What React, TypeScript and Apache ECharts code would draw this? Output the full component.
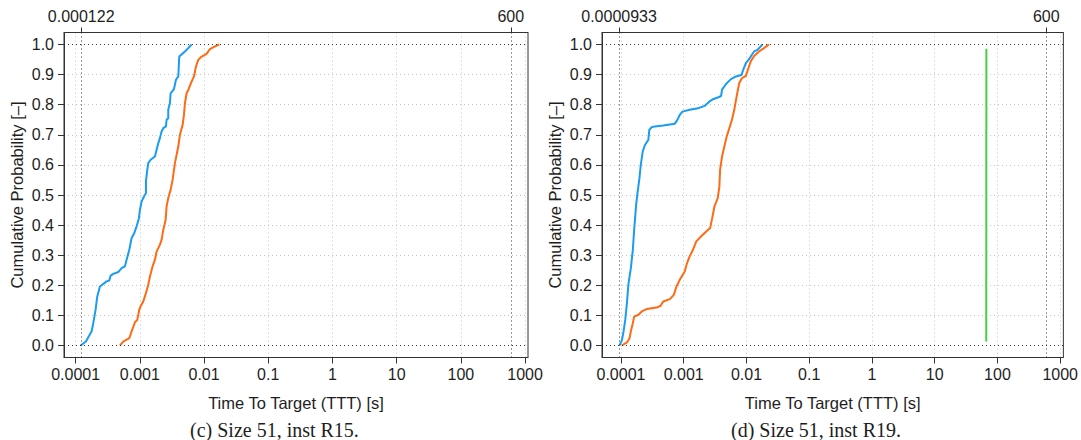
import React, { useEffect, useRef } from "react";
import * as echarts from "echarts";

// ---- Data (times in seconds, cumulative probability) ----
const DECADES = [-4, -3, -2, -1, 0, 1, 2, 3];
const DECADE_LABELS = ["0.0001", "0.001", "0.01", "0.1", "1", "10", "100", "1000"];
const Y_TICKS = [0, 0.1, 0.2, 0.3, 0.4, 0.5, 0.6, 0.7, 0.8, 0.9, 1.0];

const C_TOP_VALUES = [0.000122, 600];
const C_TOP_LABELS = ["0.000122", "600"];
const D_TOP_VALUES = [0.0000933, 600];
const D_TOP_LABELS = ["0.0000933", "600"];

// (c) Size 51, inst R15 — blue
const cBlueT = [1.195e-4, 1.446e-4, 1.774e-4, 1.882e-4, 2.046e-4, 2.173e-4, 2.39e-4, 3.036e-4, 3.34e-4, 3.505e-4, 3.856e-4, 4.61e-4, 5.2e-4, 5.86e-4, 6.22e-4, 6.85e-4, 7.45e-4, 8.1e-4, 8.9e-4, 9.68e-4, 1.004e-3, 1.066e-3, 1.13e-3, 1.2e-3, 1.245e-3, 1.245e-3, 1.306e-3, 1.353e-3, 1.472e-3, 1.718e-3, 1.824e-3, 1.936e-3, 2.055e-3, 2.18e-3, 2.316e-3, 2.55e-3, 2.61e-3, 2.77e-3, 2.77e-3, 2.94e-3, 3.015e-3, 3.4e-3, 3.65e-3, 3.97e-3, 4.11e-3, 5.04e-3, 5.68e-3, 6.4e-3];
const cBlueP = [0.0, 0.013, 0.047, 0.074, 0.119, 0.163, 0.196, 0.213, 0.216, 0.232, 0.238, 0.244, 0.257, 0.263, 0.285, 0.318, 0.357, 0.371, 0.396, 0.423, 0.451, 0.479, 0.49, 0.501, 0.506, 0.545, 0.584, 0.606, 0.617, 0.628, 0.65, 0.672, 0.689, 0.711, 0.722, 0.728, 0.75, 0.755, 0.783, 0.805, 0.838, 0.852, 0.883, 0.894, 0.96, 0.977, 0.988, 1.0];

// (c) — orange
const cOrangeT = [4.9e-4, 5.52e-4, 6.85e-4, 7.45e-4, 8.39e-4, 9.12e-4, 9.8e-4, 1.028e-3, 1.13e-3, 1.245e-3, 1.353e-3, 1.437e-3, 1.58e-3, 1.718e-3, 1.824e-3, 2.055e-3, 2.18e-3, 2.316e-3, 2.52e-3, 2.61e-3, 2.77e-3, 3.015e-3, 3.24e-3, 3.52e-3, 3.74e-3, 3.97e-3, 4.21e-3, 4.64e-3, 4.86e-3, 5.04e-3, 5.35e-3, 5.68e-3, 6.4e-3, 6.97e-3, 7.48e-3, 8.13e-3, 9.16e-3, 1.096e-2, 1.236e-2, 1.48e-2, 1.726e-2];
const cOrangeP = [0.0, 0.013, 0.024, 0.047, 0.077, 0.085, 0.119, 0.13, 0.146, 0.174, 0.202, 0.229, 0.263, 0.285, 0.312, 0.335, 0.351, 0.384, 0.417, 0.462, 0.49, 0.517, 0.551, 0.606, 0.634, 0.661, 0.7, 0.733, 0.766, 0.805, 0.838, 0.849, 0.877, 0.894, 0.927, 0.949, 0.96, 0.969, 0.985, 0.994, 1.0];

// (d) Size 51, inst R19 — blue
const dBlueT = [9.5e-5, 1.036e-4, 1.1e-4, 1.17e-4, 1.243e-4, 1.32e-4, 1.437e-4, 1.545e-4, 1.622e-4, 1.744e-4, 1.832e-4, 1.97e-4, 2.068e-4, 2.223e-4, 2.42e-4, 2.73e-4, 2.833e-4, 3.08e-4, 3.48e-4, 4.716e-4, 7.21e-4, 7.84e-4, 8.65e-4, 9.53e-4, 1.244e-3, 1.684e-3, 2.148e-3, 2.576e-3, 2.905e-3, 3.485e-3, 3.94e-3, 4.08e-3, 4.72e-3, 5.66e-3, 6.79e-3, 8.35e-3, 8.87e-3, 9.77e-3, 1.077e-2, 1.17e-2, 1.323e-2, 1.493e-2, 1.686e-2, 1.79e-2];
const dBlueP = [0.0, 0.018, 0.047, 0.085, 0.141, 0.207, 0.257, 0.318, 0.384, 0.467, 0.506, 0.556, 0.6, 0.645, 0.667, 0.683, 0.717, 0.725, 0.728, 0.731, 0.737, 0.748, 0.766, 0.777, 0.783, 0.788, 0.796, 0.811, 0.818, 0.824, 0.829, 0.85, 0.869, 0.885, 0.894, 0.899, 0.916, 0.938, 0.949, 0.96, 0.977, 0.982, 0.994, 1.0];

// (d) — orange
const dOrangeT = [1.036e-4, 1.243e-4, 1.369e-4, 1.437e-4, 1.545e-4, 1.622e-4, 1.9e-4, 2.143e-4, 2.57e-4, 3.7e-4, 4.28e-4, 4.72e-4, 6.01e-4, 6.95e-4, 7.66e-4, 8.65e-4, 1.037e-3, 1.13e-3, 1.244e-3, 1.404e-3, 1.585e-3, 1.902e-3, 2.28e-3, 2.638e-3, 2.84e-3, 3.09e-3, 3.485e-3, 3.7e-3, 3.8e-3, 4.08e-3, 4.44e-3, 4.835e-3, 5.33e-3, 5.87e-3, 6.39e-3, 6.96e-3, 7.67e-3, 8.45e-3, 9.77e-3, 1.077e-2, 1.17e-2, 1.323e-2, 1.585e-2, 1.9e-2, 2.28e-2];
const dOrangeP = [0.0, 0.01, 0.024, 0.047, 0.074, 0.096, 0.102, 0.113, 0.121, 0.126, 0.132, 0.146, 0.154, 0.168, 0.196, 0.218, 0.246, 0.274, 0.296, 0.318, 0.346, 0.363, 0.379, 0.39, 0.423, 0.462, 0.49, 0.528, 0.584, 0.628, 0.661, 0.694, 0.722, 0.75, 0.783, 0.827, 0.872, 0.888, 0.896, 0.922, 0.944, 0.962, 0.977, 0.988, 1.0];

// (d) — green
const dGreenT = [66.3, 66.6];
const dGreenP = [0.013, 0.986];

const BLUE = "#1a9cf0";
const ORANGE = "#ff6a13";
const GREEN = "#44d044";
const TEXT = "#1e1e1e";
const FONT = "'Liberation Sans', Arial, Helvetica, sans-serif";
const SERIF = "'Liberation Serif', 'Times New Roman', serif";

function pairs(t: number[], p: number[]) {
  return t.map((v, i) => [Math.log10(v), p[i]]);
}

function logExtent(lo: number, hi: number) {
  const a = Math.log10(lo);
  const b = Math.log10(hi);
  const pad = (b - a) * 0.04;
  return [a - pad, b + pad];
}

export default function App() {
  const ref = useRef<HTMLDivElement>(null);
  useEffect(() => {
    if (!ref.current) return;
    const chart = echarts.init(ref.current, undefined, { renderer: "svg" });

    const grids = [
      { left: 64, top: 32.5, width: 464, height: 325 },
      { left: 602, top: 32.5, width: 465, height: 325 },
    ];
    const tops = [
      { vals: C_TOP_VALUES, labels: C_TOP_LABELS },
      { vals: D_TOP_VALUES, labels: D_TOP_LABELS },
    ];
    const gridLine = { color: "#c4c4c4", type: [1, 3], width: 1 };

    const xAxes: any[] = [];
    const yAxes: any[] = [];
    tops.forEach((tp, gi) => {
      const [mn, mx] = logExtent(tp.vals[0], tp.vals[1]);
      const topLogs = tp.vals.map((v) => Math.log10(v));
      xAxes.push({
        type: "value",
        gridIndex: gi,
        position: "bottom",
        min: mn,
        max: mx,
        splitNumber: 7,
        axisLine: { show: true, onZero: false, lineStyle: { color: "#333", width: 1 } },
        axisTick: { show: true, length: 6, customValues: DECADES, lineStyle: { color: "#333" } },
        axisLabel: {
          customValues: DECADES,
          margin: 9,
          fontSize: 16,
          color: TEXT,
          fontFamily: FONT,
          formatter: (v: number) => {
            const i = DECADES.findIndex((d) => Math.abs(d - v) < 1e-6);
            return i >= 0 ? DECADE_LABELS[i] : "";
          },
        },
        splitLine: { show: true, lineStyle: gridLine },
        name: "Time To Target (TTT) [s]",
        nameLocation: "middle",
        nameGap: 37,
        nameTextStyle: { fontSize: 16.5, color: TEXT, fontFamily: FONT },
      });
      xAxes.push({
        type: "value",
        gridIndex: gi,
        position: "top",
        min: mn,
        max: mx,
        axisLine: { show: true, onZero: false, lineStyle: { color: "#333", width: 1 } },
        axisTick: { show: true, length: 5, customValues: topLogs, lineStyle: { color: "#333" } },
        axisLabel: {
          customValues: topLogs,
          margin: 8,
          fontSize: 16,
          color: TEXT,
          fontFamily: FONT,
          formatter: (v: number) => {
            const i = topLogs.findIndex((d) => Math.abs(d - v) < 1e-6);
            return i >= 0 ? tp.labels[i] : "";
          },
        },
        splitLine: { show: false },
      });
      yAxes.push({
        type: "value",
        gridIndex: gi,
        min: -0.04,
        max: 1.04,
        splitNumber: 10,
        axisLine: { show: true, onZero: false, lineStyle: { color: "#333", width: 1 } },
        axisTick: { show: true, length: 6, customValues: Y_TICKS, lineStyle: { color: "#333" } },
        axisLabel: {
          customValues: Y_TICKS,
          margin: 10,
          fontSize: 16,
          color: TEXT,
          fontFamily: FONT,
          formatter: (v: number) => v.toFixed(1),
        },
        splitLine: { show: true, lineStyle: gridLine },
        name: "Cumulative Probability [–]",
        nameLocation: "middle",
        nameGap: 39,
        nameTextStyle: { fontSize: 16.5, color: TEXT, fontFamily: FONT },
      });
    });

    const refLines = (vals: number[]) => ({
      silent: true,
      symbol: "none",
      label: { show: false },
      lineStyle: { color: "#333", type: [1, 3], width: 1 },
      data: [
        { xAxis: Math.log10(vals[0]) },
        { xAxis: Math.log10(vals[1]) },
        { yAxis: 0 },
        { yAxis: 1 },
      ],
    });

    const line = (name: string, data: any[], color: string, xi: number, yi: number, ml?: any) => ({
      type: "line",
      name,
      xAxisIndex: xi,
      yAxisIndex: yi,
      data,
      showSymbol: false,
      symbol: "none",
      lineStyle: { color, width: 2 },
      itemStyle: { color },
      z: 3,
      markLine: ml,
    });

    chart.setOption({
      animation: false,
      backgroundColor: "#fff",
      textStyle: { fontFamily: FONT },
      grid: grids.map((g) => ({ ...g, show: true, borderColor: "#333", borderWidth: 1, backgroundColor: "transparent" })),
      xAxis: xAxes,
      yAxis: yAxes,
      series: [
        line("c-blue", pairs(cBlueT, cBlueP), BLUE, 0, 0, refLines(C_TOP_VALUES)),
        line("c-orange", pairs(cOrangeT, cOrangeP), ORANGE, 0, 0),
        line("d-blue", pairs(dBlueT, dBlueP), BLUE, 2, 1, refLines(D_TOP_VALUES)),
        line("d-orange", pairs(dOrangeT, dOrangeP), ORANGE, 2, 1),
        line("d-green", pairs(dGreenT, dGreenP), GREEN, 2, 1),
      ],
      graphic: [
        {
          type: "text",
          left: 190,
          top: 420,
          style: { text: "(c) Size 51, inst R15.", fontSize: 20, fontFamily: SERIF, fill: TEXT },
        },
        {
          type: "text",
          left: 731,
          top: 420,
          style: { text: "(d) Size 51, inst R19.", fontSize: 20, fontFamily: SERIF, fill: TEXT },
        },
      ],
    });
    return () => chart.dispose();
  }, []);
  return (
    <div
      ref={ref}
      style={{ position: "fixed", left: 0, top: 0, width: 1081, height: 440, background: "#fff" }}
    />
  );
}
